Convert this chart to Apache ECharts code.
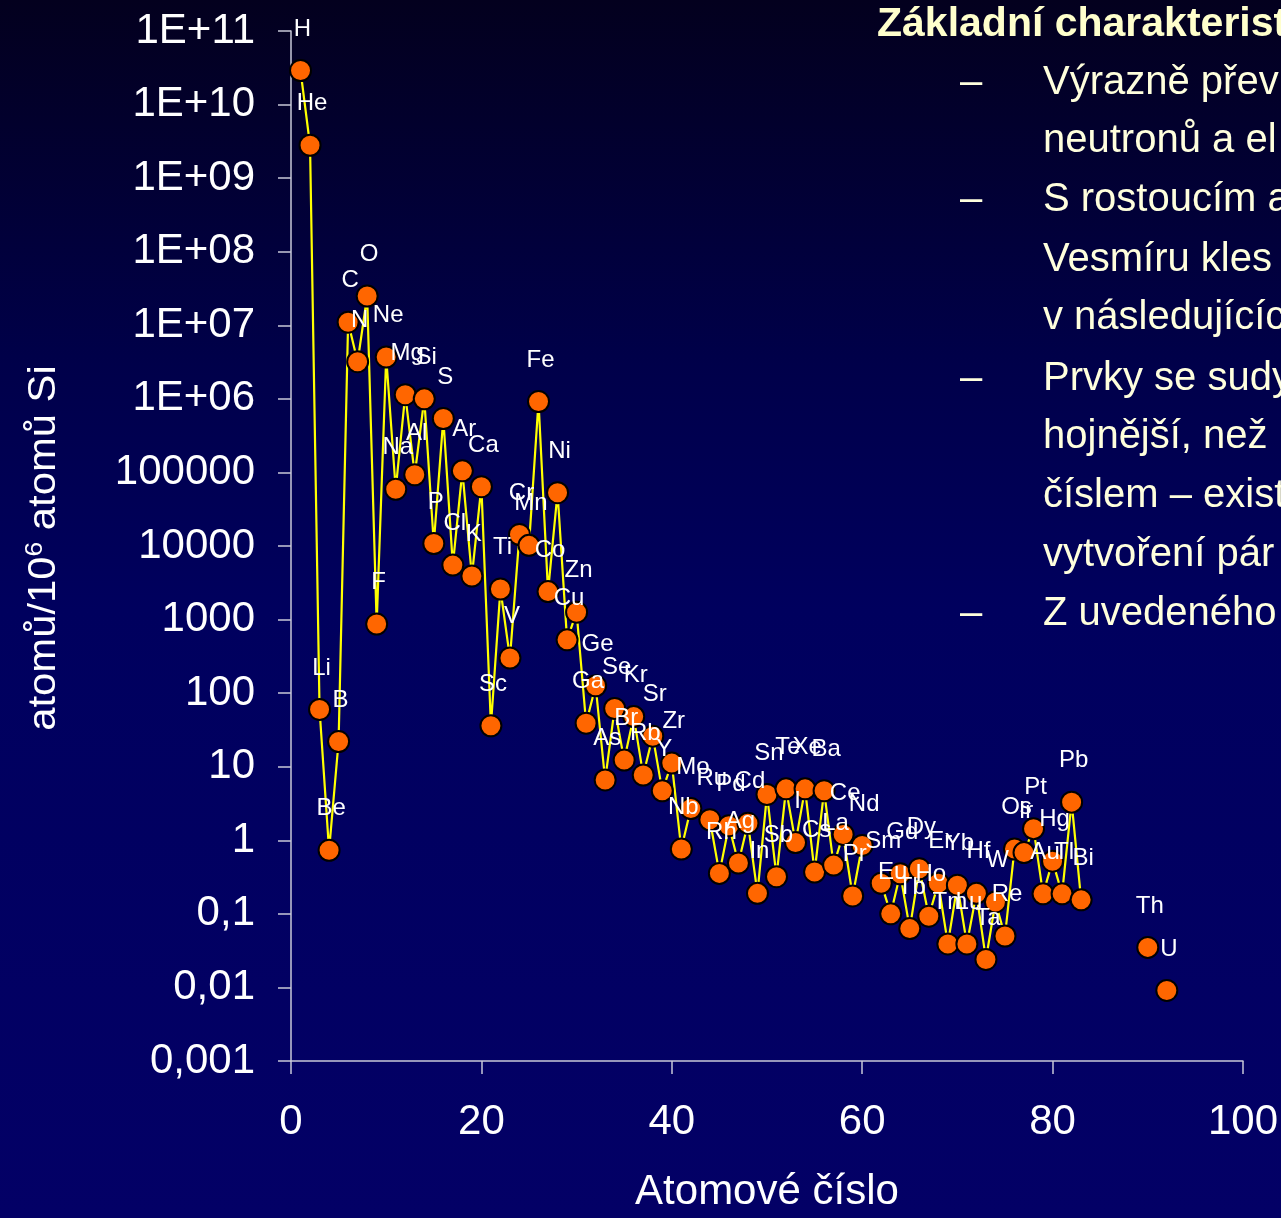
<!DOCTYPE html>
<html>
<head>
<meta charset="utf-8">
<script src="https://cdn.jsdelivr.net/npm/echarts@6/dist/echarts.min.js"></script>
<style>
  html, body { margin: 0; padding: 0; }
  body { background: linear-gradient(to bottom, #03001e 0%, #00004a 30%, #00005e 50%, #030066 100%); }
  #chart { width: 1281px; height: 1218px; }
</style>
</head>
<body>
<div id="chart"></div>
<script>
  // prvky, atomová čísla a zastoupení (atomů / 10^6 atomů Si)
  const symbols = ['H', 'He', 'Li', 'Be', 'B', 'C', 'N', 'O', 'F', 'Ne',
    'Na', 'Mg', 'Al', 'Si', 'P', 'S', 'Cl', 'Ar', 'K', 'Ca',
    'Sc', 'Ti', 'V', 'Cr', 'Mn', 'Fe', 'Co', 'Ni', 'Cu', 'Zn',
    'Ga', 'Ge', 'As', 'Se', 'Br', 'Kr', 'Rb', 'Sr', 'Y', 'Zr',
    'Nb', 'Mo', 'Tc', 'Ru', 'Rh', 'Pd', 'Ag', 'Cd', 'In', 'Sn',
    'Sb', 'Te', 'I', 'Xe', 'Cs', 'Ba', 'La', 'Ce', 'Pr', 'Nd',
    'Pm', 'Sm', 'Eu', 'Gd', 'Tb', 'Dy', 'Ho', 'Er', 'Tm', 'Yb',
    'Lu', 'Hf', 'Ta', 'W', 'Re', 'Os', 'Ir', 'Pt', 'Au', 'Hg',
    'Tl', 'Pb', 'Bi', 'Th', 'U']
  const atomicNumbers = [1, 2, 3, 4, 5, 6, 7, 8, 9, 10,
    11, 12, 13, 14, 15, 16, 17, 18, 19, 20,
    21, 22, 23, 24, 25, 26, 27, 28, 29, 30,
    31, 32, 33, 34, 35, 36, 37, 38, 39, 40,
    41, 42, 43, 44, 45, 46, 47, 48, 49, 50,
    51, 52, 53, 54, 55, 56, 57, 58, 59, 60,
    61, 62, 63, 64, 65, 66, 67, 68, 69, 70,
    71, 72, 73, 74, 75, 76, 77, 78, 79, 80,
    81, 82, 83, 90, 92]
  const abundance = [2.9e10, 2.8e9, 60, 0.73, 22, 1.1e7, 3.2e6, 2.5e7, 870, 3.7e6,
    5.9e4, 1.14e6, 9.3e4, 1.0e6, 1.08e4, 5.4e5, 5.5e3, 1.05e5, 3.9e3, 6.4e4,
    36, 2600, 300, 1.43e4, 1.02e4, 9.2e5, 2400, 5.3e4, 530, 1260,
    39, 126, 6.6, 62, 12.3, 48, 7.7, 26, 4.7, 11.2,
    0.76, 2.7, null, 1.9, 0.355, 1.58, 0.49, 1.7, 0.19, 4.2,
    0.32, 5.0, 0.93, 5.0, 0.37, 4.7, 0.46, 1.2, 0.175, 0.85,
    null, 0.26, 0.10, 0.35, 0.063, 0.41, 0.093, 0.26, 0.039, 0.245,
    0.039, 0.19, 0.024, 0.145, 0.050, 0.76, 0.68, 1.44, 0.187, 0.52,
    0.187, 3.3, 0.155, 0.035, 0.0091]

  const xTicks = [0, 20, 40, 60, 80, 100]

  const textLines = ['Výrazně přev', 'neutronů a el', 'S rostoucím a', 'Vesmíru kles',
    'v následujícíc', 'Prvky se sudy', 'hojnější, než', 'číslem – exist',
    'vytvoření pár', 'Z uvedeného']
  const bulletLines = [0, 2, 5, 9]

  const font = '"Liberation Sans", Arial, sans-serif'

  // data s mezerami tam, kde prvky chybí
  let seriesData = []
  for (let i = 0; i < symbols.length; i++) {
    if (i > 0 && atomicNumbers[i] - atomicNumbers[i - 1] > 1) {
      seriesData.push({ value: [atomicNumbers[i] - 1, '-'] })
    }
    seriesData.push({
      name: symbols[i],
      value: [atomicNumbers[i], abundance[i] == null ? '-' : abundance[i]]
    })
  }

  let graphics = []
  graphics.push({
    type: 'text', x: 877, y: 25,
    style: { text: 'Základní charakterist', fill: '#ffffcc', font: 'bold 41px ' + font, verticalAlign: 'middle' }
  })
  const lineY = [83, 141, 200, 260, 318, 379, 437, 496, 555, 614]
  textLines.forEach((t, i) => {
    graphics.push({
      type: 'text', x: 1043, y: lineY[i],
      style: { text: t, fill: '#ffffdd', font: '40px ' + font, verticalAlign: 'middle' }
    })
    if (bulletLines.indexOf(i) >= 0) {
      graphics.push({
        type: 'text', x: 960, y: lineY[i],
        style: { text: '–', fill: '#ffffdd', font: '40px ' + font, verticalAlign: 'middle' }
      })
    }
  })
  // popisek osy y s horním indexem
  graphics.push({
    type: 'text', x: 45, y: 548, rotation: Math.PI / 2, scaleX: 1.1,
    style: {
      text: '{a|atomů/10}{s|6}{a| atomů Si}',
      align: 'center', verticalAlign: 'middle',
      rich: {
        a: { fontSize: 38, fontFamily: font, fill: '#ffffff', lineHeight: 44 },
        s: { fontSize: 24, fontFamily: font, fill: '#ffffff', lineHeight: 24, verticalAlign: 'top' }
      }
    }
  })

  const chart = echarts.init(document.getElementById('chart'))
  chart.setOption({
    animation: false,
    backgroundColor: 'transparent',
    grid: { left: 291, top: 31, right: 38, bottom: 143, containLabel: false },
    graphic: graphics,
    xAxis: {
      type: 'value',
      min: xTicks[0],
      max: xTicks[xTicks.length - 1],
      interval: 20,
      name: 'Atomové číslo',
      nameLocation: 'middle',
      nameGap: 110,
      nameTextStyle: { color: '#ffffff', fontSize: 42, fontFamily: font },
      axisLine: { onZero: false, lineStyle: { color: '#c8c8d8', width: 1.5 } },
      axisTick: { show: true, inside: false, length: 13, lineStyle: { color: '#c8c8d8', width: 1.5 } },
      axisLabel: { color: '#ffffff', fontSize: 42, fontFamily: font, margin: 40 },
      splitLine: { show: false }
    },
    yAxis: {
      type: 'log',
      logBase: 10,
      min: 0.001,
      max: 1e11,
      interval: 1,
      axisLine: { show: true, lineStyle: { color: '#c8c8d8', width: 1.5 } },
      axisTick: { show: true, inside: false, length: 13, lineStyle: { color: '#c8c8d8', width: 1.5 } },
      axisLabel: {
        color: '#ffffff', fontSize: 42, fontFamily: font, margin: 36,
        formatter: function (v) {
          const e = Math.round(Math.log10(v))
          if (e >= 6) return '1E+' + String(e).padStart(2, '0')
          if (e >= 0) return String(Math.pow(10, e))
          return '0,' + '0'.repeat(-e - 1) + '1'
        }
      },
      splitLine: { show: false }
    },
    series: [{
      type: 'line',
      data: seriesData,
      connectNulls: false,
      symbol: 'circle',
      symbolSize: 21,
      showAllSymbol: true,
      lineStyle: { color: '#ffff00', width: 2.2 },
      itemStyle: { color: '#ff6600', borderColor: '#000000', borderWidth: 2 },
      label: {
        show: true,
        position: 'top',
        distance: 18,
        offset: [2, 0],
        formatter: '{b}',
        color: '#ffffff',
        fontSize: 24,
        fontFamily: font
      }
    }]
  })
</script>
</body>
</html>
